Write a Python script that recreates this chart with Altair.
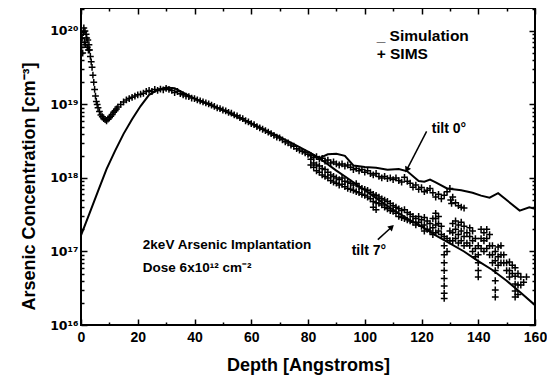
import altair as alt
import pandas as pd

# ---------------- data (depth in Angstrom, concentration in cm^-3) ----------------
# SIMS points common to both tilts (surface peak, dip, main peak, shoulder)
sims_common_depth = [0.2, 0.4, 0.6, 0.8, 1.0, 1.2, 1.4, 1.6, 1.8, 2.0, 2.2, 2.4, 2.6, 2.8, 3.0,
                     3.3, 3.6, 3.9, 4.2, 4.5, 4.8, 5.1, 5.4, 5.7, 6.0,
                     6.5, 7.0, 7.5, 8.0, 8.5, 9.0, 9.5, 10.0, 10.5, 11.0, 11.5, 12.0, 12.5,
                     13, 14, 15, 16, 17, 18, 19, 20, 21, 22, 23, 24, 25, 26, 27, 28, 29, 30,
                     31, 32, 33, 34, 35, 36, 37, 38, 39, 40, 41, 42, 43, 44, 45, 46, 47, 48, 49, 50,
                     51, 52, 53, 54, 55, 56, 57, 58, 59, 60, 61, 62, 63, 64, 65, 66, 67, 68, 69, 70,
                     71, 72, 73, 74, 75, 76, 77, 78, 79, 80]
sims_common_conc = [6.0e19, 8.0e19, 5.0e19, 9.5e19, 1.1e20, 7.0e19, 1.0e20, 6.5e19, 9.0e19, 8.0e19,
                    6.0e19, 7.5e19, 5.5e19, 6.5e19, 5.5e19,
                    4.5e19, 3.8e19, 3.2e19, 2.5e19, 2.0e19, 1.6e19, 1.3e19, 1.1e19, 1.0e19, 9.0e18,
                    8.0e18, 7.2e18, 6.8e18, 6.4e18, 6.2e18, 6.0e18, 6.3e18, 6.6e18, 6.9e18, 7.3e18,
                    7.8e18, 8.2e18, 8.7e18,
                    9.2e18, 1.0e19, 1.08e19, 1.15e19, 1.2e19, 1.25e19, 1.3e19, 1.35e19, 1.38e19,
                    1.42e19, 1.5e19, 1.55e19, 1.5e19, 1.6e19, 1.55e19, 1.62e19, 1.58e19, 1.65e19,
                    1.6e19, 1.55e19, 1.45e19, 1.5e19, 1.4e19, 1.35e19, 1.3e19, 1.28e19, 1.22e19,
                    1.2e19, 1.15e19, 1.12e19, 1.08e19, 1.05e19, 1.02e19, 9.8e18, 9.4e18, 9.0e18,
                    8.8e18, 8.4e18, 8.2e18, 7.8e18, 7.6e18, 7.2e18, 7.0e18, 6.6e18, 6.4e18, 6.0e18,
                    5.8e18, 5.5e18, 5.3e18, 5.0e18, 4.8e18, 4.6e18, 4.4e18, 4.2e18, 4.0e18, 3.8e18,
                    3.6e18, 3.5e18, 3.3e18, 3.1e18, 3.0e18, 2.8e18, 2.7e18, 2.5e18, 2.4e18, 2.3e18,
                    2.2e18, 2.1e18]

# SIMS tilt 7 deg branch: several readings per depth
sims7_depth = list(range(81, 158))
sims7_conc = [
    [1.8e18, 1.5e18], [1.6e18, 1.4e18], [1.5e18, 1.25e18], [1.45e18, 1.2e18], [1.35e18, 1.1e18],      # 81-85
    [1.3e18, 1.05e18], [1.2e18, 1.0e18], [1.1e18, 9.2e17], [1.05e18, 8.8e17], [1.0e18, 8.5e17],       # 86-90
    [9.5e17, 8.0e17], [1.0e18, 8.2e17], [9.0e17, 7.6e17], [8.8e17, 7.2e17], [8.5e17, 7.0e17],         # 91-95
    [8.0e17, 6.8e17], [8.4e17, 6.5e17], [7.6e17, 6.3e17], [7.2e17, 6.0e17], [7.0e17, 5.8e17],         # 96-100
    [6.8e17, 5.5e17], [6.4e17, 5.2e17], [6.0e17, 4.8e17, 4.0e17], [5.8e17, 4.6e17, 3.7e17],
    [5.5e17, 4.5e17],                                                                                 # 101-105
    [5.2e17, 4.3e17], [5.0e17, 4.0e17], [4.8e17, 3.8e17], [4.5e17, 3.6e17], [4.2e17, 3.5e17],         # 106-110
    [4.0e17, 3.3e17], [3.8e17, 3.0e17], [3.6e17, 2.9e17], [3.7e17, 2.8e17], [3.4e17, 2.7e17],         # 111-115
    [3.2e17, 2.6e17], [3.0e17, 2.5e17], [2.8e17, 2.3e17], [3.0e17, 2.5e17], [2.7e17, 2.2e17],         # 116-120
    [2.9e17, 2.3e17, 1.9e17], [2.6e17, 2.0e17], [2.4e17, 1.9e17], [2.8e17, 2.1e17, 1.7e17],
    [3.3e17, 2.8e17, 2.3e17, 1.8e17],                                                                 # 121-125
    [3.0e17, 2.4e17, 1.9e17], [2.2e17, 1.7e17],
    [1.6e17, 1.2e17, 9e16, 7e16, 5.5e16, 4.3e16, 3.4e16, 2.7e16, 2.3e16],
    [1.5e17, 1.0e17], [1.9e17, 1.4e17],                                                               # 126-130
    [2.4e17, 1.8e17, 1.4e17], [2.6e17, 2.0e17, 1.5e17], [2.3e17, 1.7e17, 1.3e17],
    [2.5e17, 1.9e17, 1.4e17], [2.2e17, 1.6e17, 1.2e17],                                               # 131-135
    [1.8e17, 1.3e17], [2.1e17, 1.6e17, 1.2e17], [1.9e17, 1.4e17, 1.0e17], [1.5e17, 1.1e17, 8.5e16],
    [1.2e17, 9e16, 7e16, 5.5e16, 4.5e16],                                                             # 136-140
    [2.0e17, 1.5e17, 1.1e17], [1.8e17, 1.4e17, 1.0e17], [2.0e17, 1.5e17, 1.1e17],
    [1.7e17, 1.2e17, 9e16], [1.2e17, 9e16, 7e16],                                                     # 141-145
    [1.0e17, 7.5e16, 5.5e16, 4e16, 3e16, 2.4e16], [1.15e17, 8.5e16, 6.5e16], [1.2e17, 9e16, 7e16],
    [9e16, 7e16], [7e16, 5.5e16],                                                                     # 146-150
    [7.2e16, 5.5e16, 4.5e16], [6.5e16, 5e16], [6e16, 4.6e16, 3.6e16, 2.9e16, 2.4e16],
    [5e16, 3.5e16, 2.6e16], [4.5e16, 3.5e16],                                                         # 151-155
    [3.8e16], [4.5e16],                                                                               # 156-157
]

# SIMS tilt 0 deg branch
sims0_depth = [81, 82, 83, 84, 85, 86, 87, 88, 89, 90, 91, 92, 93, 94, 95, 96, 97, 98, 99, 100,
               101, 102, 103, 104, 105, 106, 107, 108, 109, 110, 111, 112, 113, 114, 115, 116, 117,
               118, 119, 120, 121, 122, 123, 124, 125, 126, 127, 128, 129, 130, 130.3, 130.6,
               131, 132, 133, 134, 135]
sims0_conc = [2.0e18, 1.9e18, 1.95e18, 1.8e18, 1.85e18, 1.7e18, 1.75e18, 1.6e18, 1.65e18, 1.55e18,
              1.5e18, 1.55e18, 1.45e18, 1.5e18, 1.4e18, 1.3e18, 1.35e18, 1.25e18, 1.3e18, 1.2e18,
              1.25e18, 1.15e18, 1.1e18, 1.15e18, 1.05e18, 1.0e18, 1.05e18, 9.8e17, 1.0e18, 9.5e17,
              1.0e18, 9.2e17, 8.8e17, 1.02e18, 9.0e17, 8.5e17, 7.5e17, 8.0e17, 7.0e17, 7.4e17,
              6.5e17, 6.8e17, 7.2e17, 6.3e17, 5.5e17, 6.0e17, 5.2e17, 5.8e17, 6.5e17, 7.2e17,
              5.0e17, 4.5e17, 5.5e17, 4.6e17, 4.2e17, 4.0e17, 3.9e17]

# Simulation, tilt 7 deg
sim7_depth = [0, 3, 6, 9, 12, 15, 18, 21, 24, 27, 30, 33, 36, 40, 45, 50, 55, 60, 65, 70, 75, 80,
              85, 90, 95, 100, 105, 110, 115, 120, 125, 130, 135, 140, 145, 150, 155, 160]
sim7_conc = [1.66e17, 3.3e17, 6.6e17, 1.32e18, 2.34e18, 3.98e18, 6.3e18, 9.5e18, 1.35e19, 1.58e19,
             1.7e19, 1.66e19, 1.45e19, 1.2e19, 1.0e19, 8.3e18, 6.8e18, 5.5e18, 4.47e18, 3.63e18,
             2.88e18, 2.29e18, 1.74e18, 1.26e18, 9.3e17, 6.8e17, 5.0e17, 3.7e17, 2.8e17, 2.2e17,
             1.66e17, 1.29e17, 1.0e17, 7.4e16, 5.6e16, 4.0e16, 2.75e16, 1.86e16]

# Simulation, tilt 0 deg (splits from tilt 7 beyond ~80 A)
sim0_depth = [80, 84, 87, 90, 93, 96, 100, 104, 108, 112, 115, 119, 121, 123, 125, 129, 134, 138,
              141, 144, 147, 150, 154.6, 158, 160]
sim0_conc = [2.29e18, 1.86e18, 2.1e18, 2.14e18, 2.0e18, 1.48e18, 1.41e18, 1.38e18, 1.29e18, 1.32e18,
             1.23e18, 9.1e17, 8.9e17, 9.5e17, 8.7e17, 7.2e17, 6.8e17, 6.3e17, 5.75e17, 5.4e17,
             6.2e17, 5.0e17, 3.6e17, 4.0e17, 3.8e17]

# axis tick values and labels
x_major = [0, 20, 40, 60, 80, 100, 120, 140, 160]
x_minor = [10, 30, 50, 70, 90, 110, 130, 150]
y_major = [1e16, 1e17, 1e18, 1e19, 1e20]
y_major_labels = ["10¹⁶", "10¹⁷", "10¹⁸", "10¹⁹", "10²⁰"]
y_minor = [2e16, 3e16, 4e16, 5e16, 6e16, 7e16, 8e16, 9e16,
           2e17, 3e17, 4e17, 5e17, 6e17, 7e17, 8e17, 9e17,
           2e18, 3e18, 4e18, 5e18, 6e18, 7e18, 8e18, 9e18,
           2e19, 3e19, 4e19, 5e19, 6e19, 7e19, 8e19, 9e19, 2e20]

# annotations
legend_text = ["_ Simulation", "+ SIMS"]
legend_depth = [104.2, 104.2]
legend_conc = [8.5e19, 4.9e19]
tilt_text = ["tilt 0°", "tilt 7°"]
tilt_depth = [123.6, 95.4]
tilt_conc = [4.7e18, 1.02e17]
info_text = ["2keV Arsenic Implantation", "Dose 6x10¹² cm⁻²"]
info_depth = [21.8, 21.8]
info_conc = [1.23e17, 6.0e16]
# arrows: tail -> head
arrow0_depth = [121.8, 114.8]
arrow0_conc = [4.3e18, 1.29e18]
arrow7_depth = [104.6, 109.5]
arrow7_conc = [1.45e17, 2.15e17]

# ---------------- tables ----------------
rows = []
for d, c in zip(sims_common_depth, sims_common_conc):
    rows.append({"depth": d, "conc": c})
for d, cs in zip(sims7_depth, sims7_conc):
    for c in cs:
        rows.append({"depth": d, "conc": c})
for d, c in zip(sims0_depth, sims0_conc):
    rows.append({"depth": d, "conc": c})
sims_df = pd.DataFrame(rows)

sim_df = pd.concat([
    pd.DataFrame({"depth": sim7_depth, "conc": sim7_conc, "run": "tilt7"}),
    pd.DataFrame({"depth": sim0_depth, "conc": sim0_conc, "run": "tilt0"}),
])
legend_df = pd.DataFrame({"depth": legend_depth, "conc": legend_conc, "text": legend_text})
tilt_df = pd.DataFrame({"depth": tilt_depth, "conc": tilt_conc, "text": tilt_text})
info_df = pd.DataFrame({"depth": info_depth, "conc": info_conc, "text": info_text})
arrows_df = pd.concat([
    pd.DataFrame({"depth": arrow0_depth, "conc": arrow0_conc, "arrow": "a0"}),
    pd.DataFrame({"depth": arrow7_depth, "conc": arrow7_conc, "arrow": "a7"}),
])
head0_df = pd.DataFrame({"depth": [arrow0_depth[1]], "conc": [arrow0_conc[1]]})
head7_df = pd.DataFrame({"depth": [arrow7_depth[1]], "conc": [arrow7_conc[1]]})

# ---------------- encodings ----------------
FONT = "Liberation Sans"
X_DOMAIN = [0, 160]
Y_DOMAIN = [1e16, 2.05e20]

label_expr = "[" + ",".join("'" + s + "'" for s in y_major_labels) + "][round(log(datum.value)/LN10) - 16]"


def xenc(axis):
    return alt.X("depth:Q", scale=alt.Scale(domain=X_DOMAIN, nice=False, zero=False), axis=axis)


def yenc(axis):
    return alt.Y("conc:Q", scale=alt.Scale(type="log", domain=Y_DOMAIN, nice=False), axis=axis)


tick_common = dict(domain=False, grid=False, tickColor="black", tickWidth=1.5)

ax_bottom = alt.Axis(orient="bottom", values=x_major, offset=-6, tickSize=6, labelFont=FONT,
                     labelFontSize=14, labelFontWeight="bold", labelColor="black", labelPadding=5,
                     labelFlush=False, title="Depth [Angstroms]", titleFont=FONT, titleFontSize=18,
                     titleFontWeight="bold", titleColor="black", titleY=46, titleBaseline="middle",
                     **tick_common)
ax_bottom_minor = alt.Axis(orient="bottom", values=x_minor, offset=-3, tickSize=3, labels=False,
                           title=None, **tick_common)
ax_top = alt.Axis(orient="top", values=x_major, offset=-6, tickSize=6, labels=False, title=None,
                  **tick_common)
ax_top_minor = alt.Axis(orient="top", values=x_minor, offset=-3, tickSize=3, labels=False,
                        title=None, **tick_common)

ax_left = alt.Axis(orient="left", values=y_major, offset=-6, tickSize=6, labelExpr=label_expr,
                   labelFont="DejaVu Sans", labelFontSize=12.5, labelFontWeight="bold",
                   labelColor="black", labelPadding=3, labelFlush=False, labelOverlap=False,
                   title="Arsenic Concentration [cm⁻³]", titleFont=FONT, titleFontSize=18,
                   titleFontWeight="bold", titleColor="black", titleAngle=270, titleX=-58,
                   titleY=178, titleAlign="center", titleBaseline="middle", **tick_common)
ax_left_minor = alt.Axis(orient="left", values=y_minor, offset=-3, tickSize=3, labels=False,
                         title=None, **tick_common)
ax_right = alt.Axis(orient="right", values=y_major, offset=-6, tickSize=6, labels=False, title=None,
                    **tick_common)
ax_right_minor = alt.Axis(orient="right", values=y_minor, offset=-3, tickSize=3, labels=False,
                          title=None, **tick_common)

# ---------------- layers ----------------
plus_path = "M-1,0L1,0M0,-1L0,1"

sims_layer = alt.Chart(sims_df).mark_point(
    shape=plus_path, filled=False, color="black", size=46, strokeWidth=1.5, opacity=1, clip=True
).encode(x=xenc(ax_bottom), y=yenc(ax_left))

sim_layer = alt.Chart(sim_df).mark_line(color="black", strokeWidth=2, clip=True).encode(
    x=xenc(ax_top), y=yenc(ax_right), detail="run:N", order="depth:Q"
)

legend_layer = alt.Chart(legend_df).mark_text(
    align="left", baseline="middle", font=FONT, fontSize=15.5, fontWeight="bold", color="black"
).encode(x=xenc(ax_bottom_minor), y=yenc(ax_left_minor), text="text:N")

tilt_layer = alt.Chart(tilt_df).mark_text(
    align="left", baseline="middle", font=FONT, fontSize=14, fontWeight="bold", color="black"
).encode(x=xenc(ax_top_minor), y=yenc(ax_right_minor), text="text:N")

info_layer = alt.Chart(info_df).mark_text(
    align="left", baseline="middle", font=FONT, fontSize=13.5, fontWeight="bold", color="black"
).encode(x=xenc(None), y=yenc(None), text="text:N")

arrow_layer = alt.Chart(arrows_df).mark_line(color="black", strokeWidth=1.5).encode(
    x=xenc(None), y=yenc(None), detail="arrow:N"
)
head0_layer = alt.Chart(head0_df).mark_point(
    shape="triangle-up", filled=True, color="black", size=45, angle=208, opacity=1
).encode(x=xenc(None), y=yenc(None))
head7_layer = alt.Chart(head7_df).mark_point(
    shape="triangle-up", filled=True, color="black", size=45, angle=47, opacity=1
).encode(x=xenc(None), y=yenc(None))

chart = alt.layer(
    sims_layer, sim_layer, legend_layer, tilt_layer, info_layer, arrow_layer, head0_layer, head7_layer
).resolve_axis(
    x="independent", y="independent"
).properties(
    width=454, height=317,
    autosize=alt.AutoSizeParams(type="none"),
    padding={"left": 73, "top": 0, "right": 12, "bottom": 50},
    background="white",
).configure_view(stroke="black", strokeWidth=2)

chart.save("out.html", embed_options={"renderer": "svg", "actions": False})
